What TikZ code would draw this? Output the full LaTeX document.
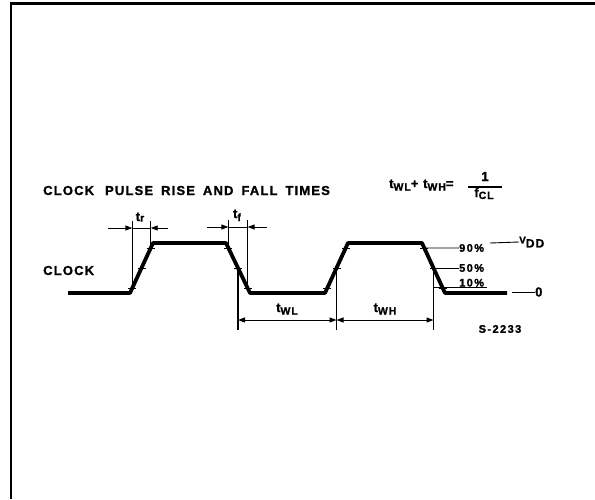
\documentclass[tikz,border=0pt]{standalone}
\usepackage{fontspec}
\setmainfont{Liberation Sans}
\newfontfamily\lbl{Liberation Sans}[LetterSpace=9,FakeBold=1.3]
\newfontfamily\lbls{Liberation Sans}[LetterSpace=13,FakeBold=1.3]
\usetikzlibrary{arrows.meta,calc}
\newcommand\mysub[2][2.5pt]{\raisebox{-#1}{\fontsize{10.5}{11}\selectfont #2}}
\newcommand\wsp{\hspace*{8pt}}
\begin{document}
\begin{tikzpicture}[x=1pt,y=-1pt,
  wave/.style={line width=3.8pt, line join=round},
  thinl/.style={line width=0.9pt},
  dimv/.style={line width=1.2pt},
  tickl/.style={line width=1pt},
  big/.style={font=\lbl\bfseries\fontsize{13}{13}\selectfont, inner sep=0pt},
  lab/.style={font=\lbl\bfseries\fontsize{13}{13}\selectfont, inner sep=0pt},
  small/.style={font=\lbls\bfseries\fontsize{11}{11}\selectfont, inner sep=0pt},
  arr/.style={-{Triangle[length=7pt,width=5pt]}},
  dimarr/.style={{Triangle[length=7pt,width=5pt]}-{Triangle[length=7pt,width=5pt]}, line width=1pt}
]
\useasboundingbox (0,0) rectangle (595,499);
% frame
\draw[line width=2.6pt] (11,499) -- (11,3.5) -- (595,3.5);

% title texts
\node[big, anchor=base west] (title) at (43,195)
  {CLOCK\wsp\hspace*{3pt}PULSE\wsp RISE\wsp AND\wsp FALL\wsp TIMES};
\node[lab, anchor=base west] (clk) at (43,275) {CLOCK};
\node[lab, anchor=base west] (eq) at (389,188)
  {t\mysub{WL}+ t\mysub{WH}=};
\node[lab, anchor=base] (one) at (485,181) {1};
\node[lab, anchor=base] (fcl) at (484,197) {f\mysub[2pt]{CL}};
\draw[line width=1.1pt] (468,187) -- (502,187);

% waveform
\coordinate (w0) at (68,293);
\coordinate (w1) at (130,293);
\coordinate (w2) at (153,243);
\coordinate (w3) at (226,243);
\coordinate (w4) at (250,293);
\coordinate (w5) at (325,293);
\coordinate (w6) at (348,243);
\coordinate (w7) at (422,243);
\coordinate (w8) at (445,293);
\coordinate (w9) at (507,293);
\draw[wave] (w0) -- (w1) -- (w2) -- (w3) -- (w4) -- (w5) -- (w6) -- (w7) -- (w8) -- (w9);

% level points on edges
\coordinate (a10) at ($(w1)!0.1!(w2)$);
\coordinate (a50) at ($(w1)!0.5!(w2)$);
\coordinate (a90) at ($(w1)!0.9!(w2)$);
\coordinate (b90) at ($(w3)!0.1!(w4)$);
\coordinate (b50) at ($(w3)!0.5!(w4)$);
\coordinate (b10) at ($(w3)!0.9!(w4)$);
\coordinate (c10) at ($(w5)!0.1!(w6)$);
\coordinate (c50) at ($(w5)!0.5!(w6)$);
\coordinate (c90) at ($(w5)!0.9!(w6)$);
\coordinate (d90) at ($(w7)!0.1!(w8)$);
\coordinate (d50) at ($(w7)!0.5!(w8)$);
\coordinate (d10) at ($(w7)!0.9!(w8)$);
\foreach \p in {a10,a50,a90,b10,b50,b90,c10,c50,c90,d10,d50,d90}
  \draw[tickl] (\p) ++(-4,0) -- ++(8,0);

% t_r
\coordinate (trA) at (108,228);
\coordinate (trB) at (168,228);
\draw[thinl] (a10) -- (a10 |- 0,221);
\draw[thinl] (a90) -- (a90 |- 0,221);
\draw[thinl, arr] (trA) -- (a10 |- trA);
\draw[thinl, arr] (trB) -- (a90 |- trB);
\draw[thinl] (a10 |- trA) -- (a90 |- trA);
\node[lab, anchor=base] (tr) at (140,221) {t\mysub[0.5pt]{r}};

% t_f
\coordinate (tfA) at (207,227);
\coordinate (tfB) at (267,227);
\draw[thinl] (b90) -- (b90 |- 0,220);
\draw[thinl] (b10) -- (b10 |- 0,220);
\draw[thinl, arr] (tfA) -- (b90 |- tfA);
\draw[thinl, arr] (tfB) -- (b10 |- tfB);
\draw[thinl] (b90 |- tfA) -- (b10 |- tfA);
\node[lab, anchor=base] (tf) at (237,218) {t\mysub[3pt]{f}};

% t_WL, t_WH
\coordinate (bot) at (0,330);
\coordinate (dimy) at (0,320);
\draw[dimv] (b50) -- (b50 |- bot);
\draw[dimv] (c50) -- (c50 |- bot);
\draw[dimv] (d50) -- (d50 |- bot);
\draw[dimarr] (b50 |- dimy) -- (c50 |- dimy);
\draw[dimarr] (c50 |- dimy) -- (d50 |- dimy);
\node[lab, anchor=base] (twl) at (287,312) {t\mysub{WL}};
\node[lab, anchor=base] (twh) at (385,312) {t\mysub{WH}};

% levels
\node[small, anchor=west] (p90) at (459,248) {90\%};
\node[small, anchor=west] (p50) at (459,268) {50\%};
\node[small, anchor=base west] (p10) at (459,286.5) {10\%};
\draw[thinl] (d90) -- (p90.west);
\draw[thinl] (d50) -- (p50.west);
\draw[thinl] (d50 |- 0,287) -- (487,287);
\coordinate (vddA) at (490,243);
\node[lab, anchor=west] (vdd) at (519,242) {\raisebox{4pt}{\fontsize{10}{10}\selectfont V}\fontsize{12}{12}\selectfont DD};
\draw[thinl] (vddA) -- (vdd.west);
\coordinate (zA) at (512,292);
\node[lab, anchor=west] (zero) at (535,292) {0};
\draw[thinl] (zA) -- (zero.west);
\node[small, anchor=center] (code) at (500,329) {S-2233};
\end{tikzpicture}
\end{document}
